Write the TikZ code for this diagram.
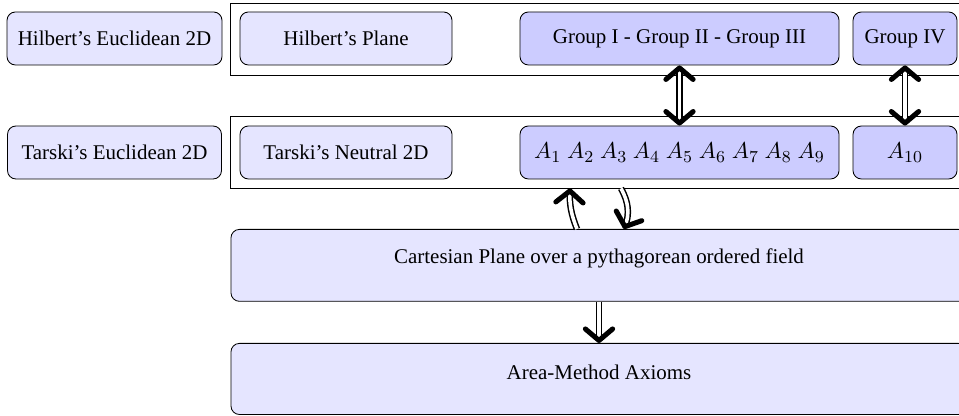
\documentclass[tikz,border=0pt]{standalone}
\usepackage{fontspec}
\setmainfont{Liberation Serif}
\usetikzlibrary{arrows.meta}
\begin{document}
\begin{tikzpicture}[x=0.477pt,y=-0.477pt,
  every node/.style={inner sep=0pt},
  box/.style={draw, rounded corners=4pt, fill=blue!10, minimum height=53*0.477pt},
  dbox/.style={box, fill=blue!20},
  frm/.style={draw, rectangle, inner sep=0pt},
  dbl/.style={double, line width=0.7pt, double distance=1.7pt},
  barb/.tip={Straight Barb[length=5.5pt,width=13pt,line width=2.4pt,round]},
  headonly/.style={line width=2.4pt, dash pattern=on 0pt off 5000pt},
  tip/.style={headonly, -barb},
  tips/.style={headonly, barb-barb}
]
\useasboundingbox (0,0) rectangle (959,416);
% frames
\node[frm, minimum width=730*0.477pt, minimum height=72*0.477pt] (frame1) at (595,39) {};
\node[frm, minimum width=730*0.477pt, minimum height=72*0.477pt] (frame2) at (595,152) {};
% row 1
\node[box, minimum width=215*0.477pt] (hE) at (114.5,38.5) {Hilbert’s Euclidean 2D};
\node[box, minimum width=212*0.477pt] (hP) at (346,38.5) {Hilbert’s Plane};
\node[dbox, minimum width=319*0.477pt] (g123) at (679.5,38.5) {Group I - Group II - Group III};
\node[dbox, minimum width=104*0.477pt] (g4) at (905,38.5) {Group IV};
% row 2
\node[box, minimum width=214*0.477pt] (tE) at (114.5,152.5) {Tarski’s Euclidean 2D};
\node[box, minimum width=212*0.477pt] (tN) at (346,152.5) {Tarski’s Neutral 2D};
\node[dbox, minimum width=319*0.477pt, font=\fontsize{11}{13}\selectfont] (A19) at (679.5,152.5) {$A_1$ $A_2$ $A_3$ $A_4$ $A_5$ $A_6$ $A_7$ $A_8$ $A_9$};
\node[dbox, minimum width=104*0.477pt, font=\fontsize{11}{13}\selectfont] (A10) at (905,152.5) {$A_{10}$};
% lower boxes
\node[box, minimum width=736*0.477pt, minimum height=0pt, text height=16.4pt, text depth=17.9pt, anchor=north] (cart) at (599,229) {Cartesian Plane over a pythagorean ordered field};
\node[box, minimum width=736*0.477pt, minimum height=0pt, text height=17.2pt, text depth=16.7pt, anchor=north] (area) at (599,343) {Area-Method Axioms};
% helper coordinates
\coordinate (cu) at (577,229);
\coordinate (tu) at (570,188);
\coordinate (td) at (621,188);
\coordinate (cd) at (624,229);
% connectors: double shafts
\draw[dbl, shorten <=1.5pt, shorten >=1.5pt] (g123) -- (A19);
\draw[dbl, shorten <=1.5pt, shorten >=1.5pt] (g4) -- (A10);
\draw[dbl, shorten >=1.5pt] (cart) -- (area);
\draw[dbl, shorten >=1.5pt] (cart.north -| cu) to[bend left=12] (frame2.south -| tu);
\draw[dbl, shorten >=1.5pt] (frame2.south -| td) to[bend left=25] (cart.north -| cd);
% connectors: heavy heads
\draw[tips] (g123) -- (A19);
\draw[tips] (g4) -- (A10);
\draw[tip] (cart) -- (area);
\draw[tip] (cart.north -| cu) to[bend left=12] (frame2.south -| tu);
\draw[tip] (frame2.south -| td) to[bend left=25] (cart.north -| cd);
\end{tikzpicture}
\end{document}
